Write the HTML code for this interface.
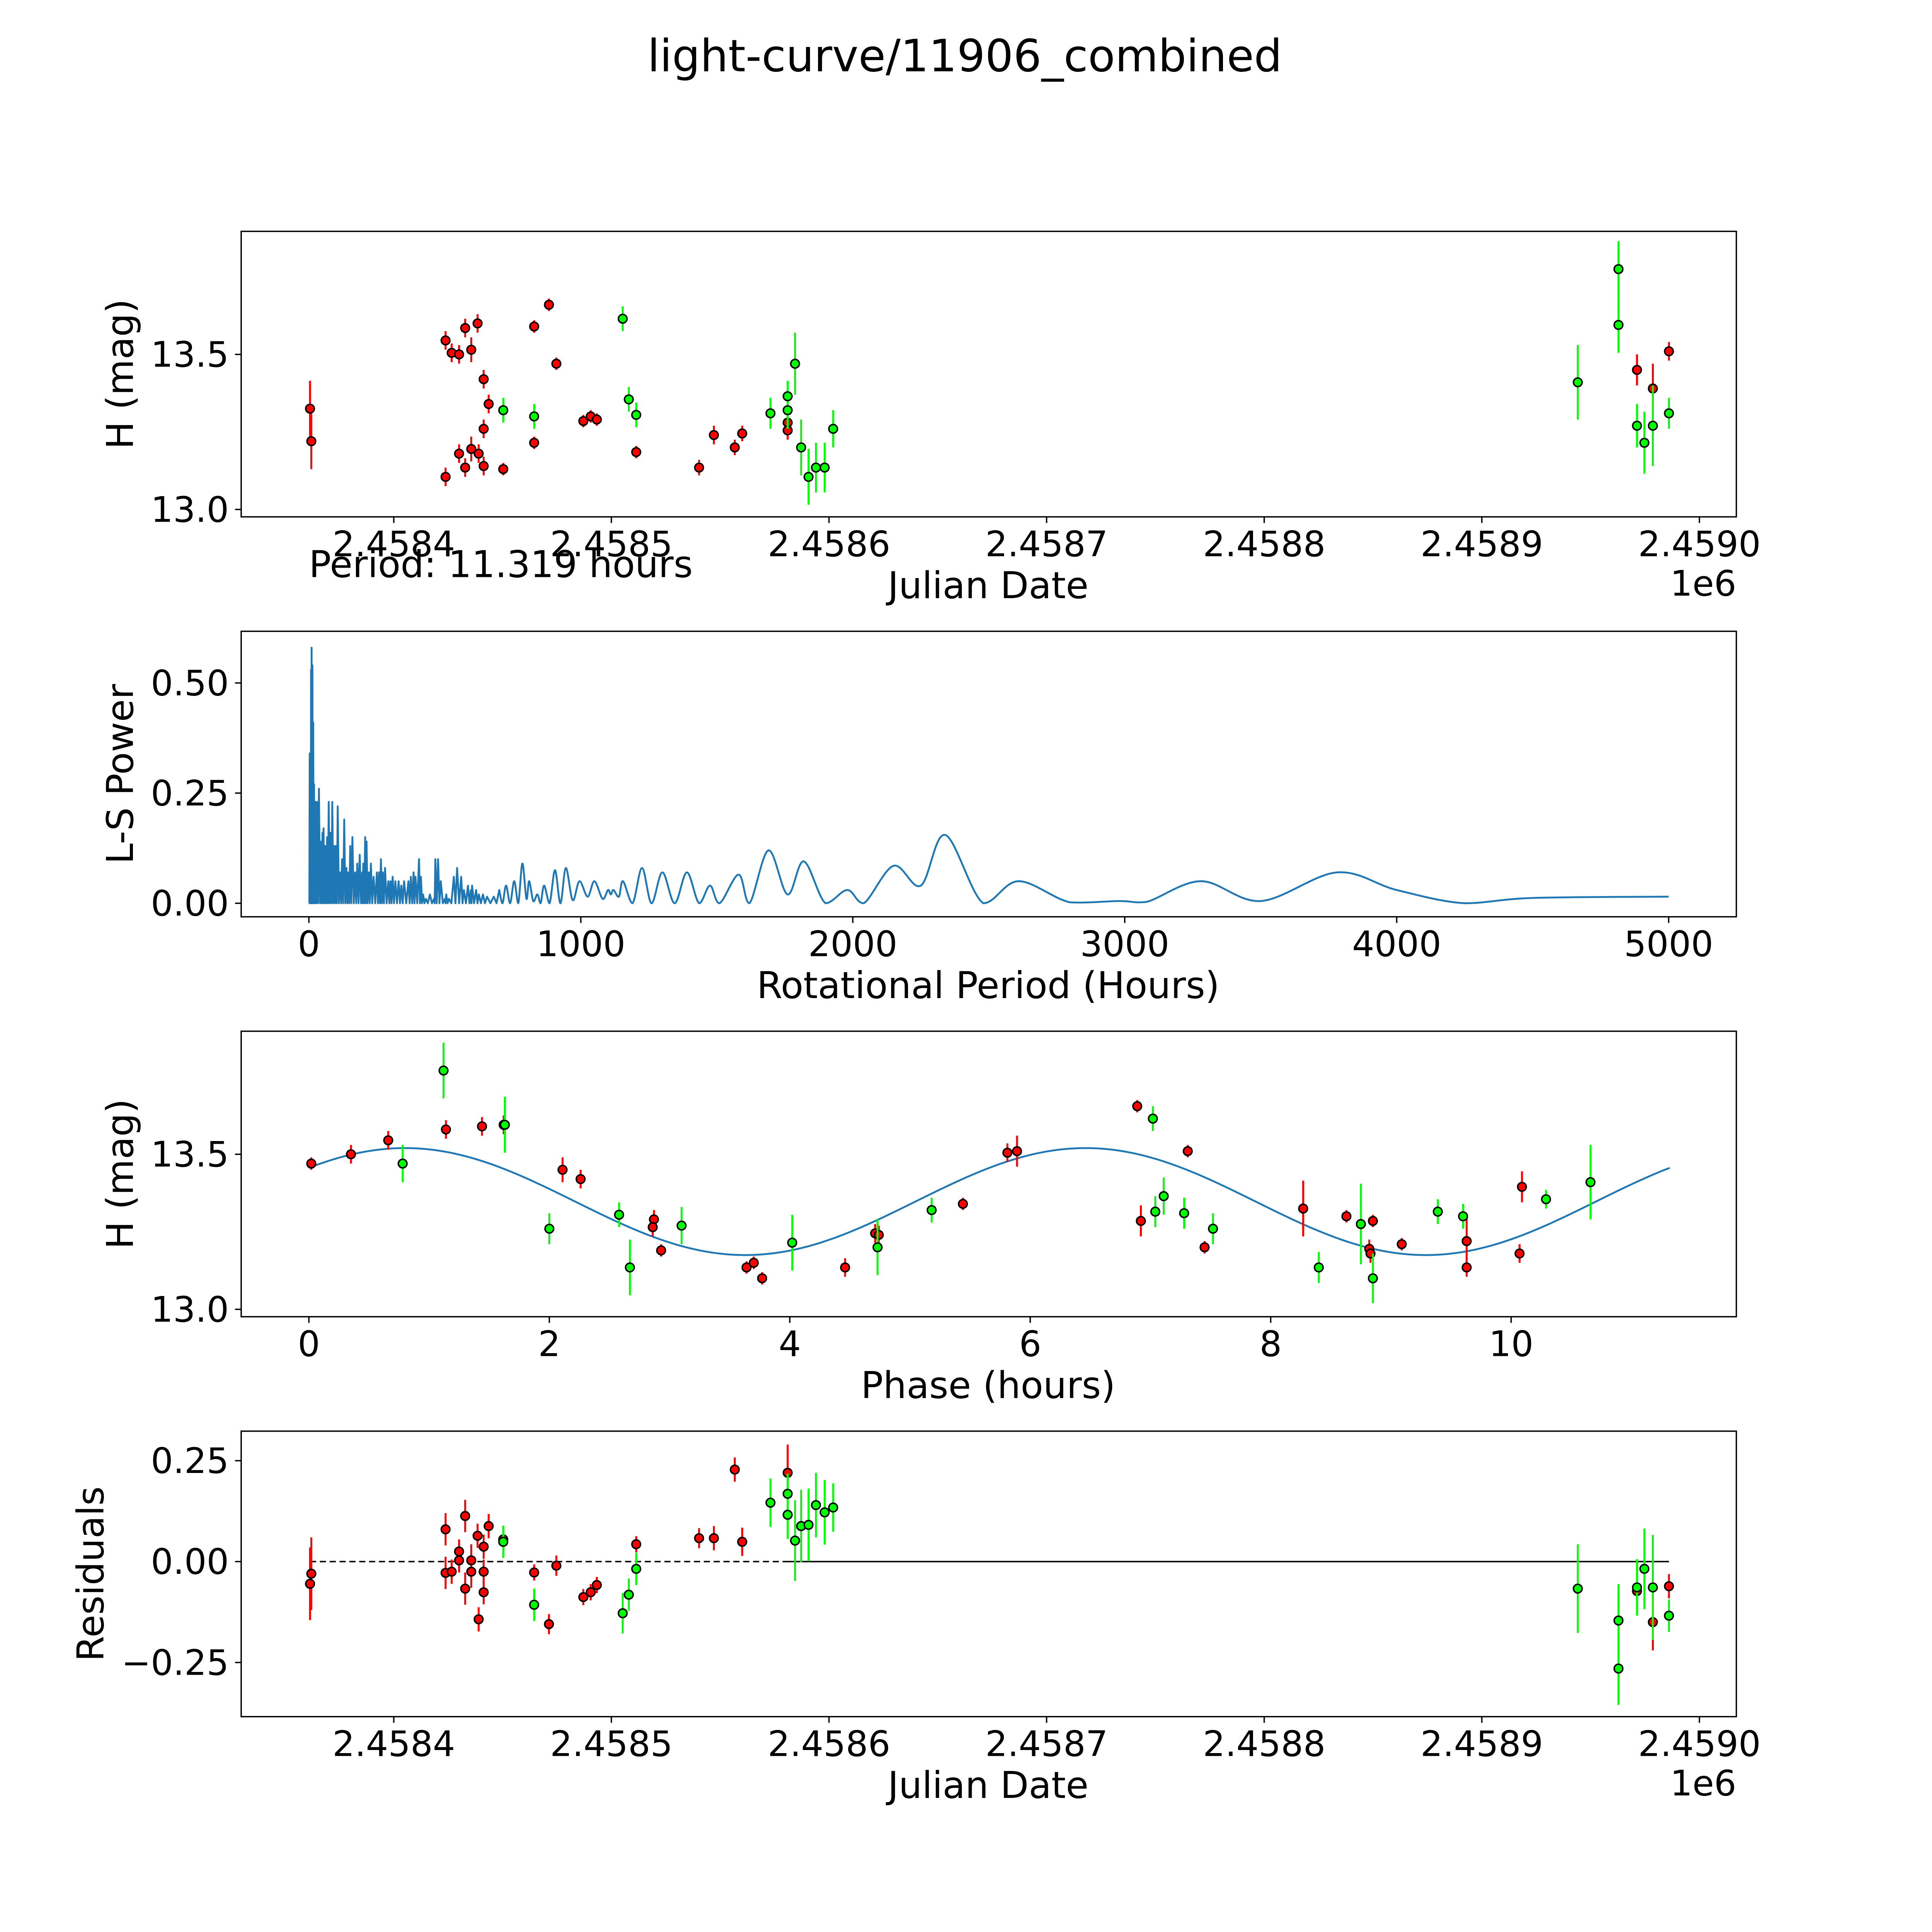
<!DOCTYPE html>
<html><head><meta charset="utf-8">
<style>
html,body{margin:0;padding:0;background:#fff;overflow:hidden;width:100vw;height:100vh;}
svg{display:block;width:100vw;height:100vh;}
text{font-family:"DejaVu Sans","Liberation Sans",sans-serif;fill:#000;}
</style></head>
<body>
<svg id="fig" xmlns="http://www.w3.org/2000/svg" viewBox="0 0 1570 1570" preserveAspectRatio="none">
<rect x="0" y="0" width="1570" height="1570" fill="#fff"/>
<text x="784" y="58" font-size="36" text-anchor="middle">light-curve/11906_combined</text>
</svg>
<script>
// ---------- Panel 1: light curve (JD offset from 2458400, magnitude, error) ----------
const lcRedJd  = [-38.5,-37.9,23.8,23.8,26.6,30.0,30.0,32.8,32.8,35.6,35.6,38.5,39.0,41.3,41.3,41.3,43.6,50.3,64.5,64.5,71.3,74.7,87.1,90.5,93.3,111.4,140.3,147.1,156.7,160.1,181.0,181.0,571.3,578.6,586.0];
const lcRedMag = [13.325,13.22,13.545,13.105,13.505,13.50,13.18,13.585,13.135,13.515,13.195,13.60,13.18,13.42,13.26,13.14,13.34,13.13,13.59,13.215,13.66,13.47,13.285,13.30,13.29,13.185,13.135,13.24,13.20,13.245,13.28,13.255,13.45,13.39,13.51];
const lcRedErr = [0.09,0.09,0.03,0.03,0.03,0.03,0.03,0.03,0.03,0.04,0.04,0.03,0.03,0.03,0.03,0.03,0.03,0.02,0.02,0.02,0.02,0.02,0.02,0.02,0.02,0.02,0.025,0.03,0.025,0.025,0.03,0.03,0.05,0.08,0.03];
const lcGrnJd  = [50.3,64.5,105.2,108.0,111.4,173.1,181.0,181.0,184.4,187.2,190.6,194.0,198.0,201.9,544.1,562.8,562.8,571.3,574.7,578.6,586.0];
const lcGrnMag = [13.32,13.30,13.615,13.355,13.305,13.31,13.365,13.32,13.47,13.20,13.105,13.135,13.135,13.26,13.41,13.775,13.595,13.27,13.215,13.27,13.31];
const lcGrnErr = [0.04,0.04,0.04,0.04,0.04,0.05,0.05,0.06,0.1,0.09,0.09,0.08,0.08,0.06,0.12,0.09,0.09,0.07,0.1,0.13,0.05];
const jdTicks = ["2.4584","2.4585","2.4586","2.4587","2.4588","2.4589","2.4590"];
const jdTickVals = [0,100,200,300,400,500,600];
const magTicks = ["13.0","13.5"];
const magTickVals = [13.0,13.5];

// ---------- Panel 2: periodogram ----------
const densePeriods = [3,6,8,10,13,16,19,24,30,37,45,50,54,60,67,73,80,86,94,100,106,115,122,130,138,145,152,160,170,178,187,196,200,207,212,220,228,238,250,258,265,272,280,292,300,308,318,330,340,350,366,375,385,392,405,412,420,430,445,460,465,475,485,500,505,515,533,545,560,570,585,596,600,615,625,640,655,680];
const densePowers  = [0.34,0.26,0.53,0.58,0.54,0.41,0.27,0.23,0.23,0.26,0.14,0.16,0.17,0.13,0.15,0.23,0.16,0.23,0.13,0.13,0.22,0.07,0.10,0.19,0.08,0.07,0.13,0.15,0.07,0.09,0.11,0.07,0.09,0.15,0.14,0.07,0.09,0.06,0.07,0.07,0.10,0.07,0.08,0.05,0.05,0.06,0.05,0.05,0.04,0.05,0.05,0.06,0.07,0.06,0.10,0.06,0.02,0.01,0.02,0.01,0.10,0.10,0.05,0.01,0.02,0.01,0.06,0.08,0.06,0.03,0.04,0.03,0.04,0.03,0.02,0.02,0.015,0.015];
const smoothPeriods = [700,712,725,740,755,770,785,800,810,825,840,852,865,885,905,925,945,970,995,1025,1050,1080,1100,1110,1120,1140,1155,1190,1225,1260,1300,1345,1390,1435,1475,1510,1580,1620,1690,1760,1820,1900,1980,2040,2150,2250,2340,2480,2610,2800,2980,3080,3280,3500,3780,4000,4250,4500,5000];
const smoothPowers  = [0.03,0,0.04,0,0.05,0,0.09,0.01,0.05,0.005,0.02,0,0.04,0,0.075,0,0.08,0.007,0.05,0.015,0.05,0.01,0.03,0.02,0.03,0.015,0.05,0,0.08,0,0.07,0,0.07,0,0.04,0,0.065,0,0.12,0.02,0.095,0,0.03,0,0.085,0.04,0.155,0,0.05,0.002,0.005,0.003,0.05,0.005,0.07,0.03,0,0.012,0.015];
const perTicks = ["0","1000","2000","3000","4000","5000"];
const perTickVals = [0,1000,2000,3000,4000,5000];
const powTicks = ["0.00","0.25","0.50"];
const powTickVals = [0,0.25,0.5];

// ---------- Panel 3: phased ----------
const phRedX = [0.02,0.35,0.66,1.14,1.44,1.62,2.11,2.26,2.87,2.86,2.93,3.64,3.70,3.77,4.46,4.71,4.74,5.44,5.81,5.89,6.89,6.92,7.31,7.45,8.27,8.63,8.82,8.83,8.85,9.09,9.63,9.63,10.07,10.09];
const phRedY = [13.47,13.50,13.545,13.58,13.59,13.595,13.45,13.42,13.29,13.265,13.19,13.135,13.15,13.10,13.135,13.245,13.24,13.34,13.505,13.51,13.655,13.285,13.51,13.20,13.325,13.30,13.195,13.18,13.285,13.21,13.22,13.135,13.18,13.395];
const phRedE = [0.02,0.03,0.03,0.03,0.03,0.03,0.04,0.03,0.03,0.03,0.02,0.02,0.02,0.02,0.03,0.03,0.03,0.02,0.03,0.05,0.02,0.05,0.02,0.02,0.09,0.02,0.03,0.03,0.02,0.02,0.08,0.03,0.03,0.05];
const phGrnX = [1.12,1.63,0.78,2.0,2.58,2.67,3.10,4.02,4.73,5.18,7.02,7.04,7.11,7.28,7.52,8.40,8.75,8.85,9.39,9.60,10.29,10.66];
const phGrnY = [13.77,13.595,13.47,13.26,13.305,13.135,13.27,13.215,13.20,13.32,13.615,13.315,13.365,13.31,13.26,13.135,13.275,13.10,13.315,13.30,13.355,13.41];
const phGrnE = [0.09,0.09,0.06,0.05,0.04,0.09,0.06,0.09,0.09,0.04,0.04,0.05,0.06,0.05,0.05,0.05,0.13,0.08,0.04,0.04,0.03,0.12];
const fitParams = [13.3475, 0.1725, 5.66, 0.8, 11.319]; // mean, amplitude, period, peak phase, max phase
const phTicks = ["0","2","4","6","8","10"];
const phTickVals = [0,2,4,6,8,10];

// ---------- Panel 4: residuals ----------
const resRedJd = [-38.5,-37.9,23.8,23.8,26.6,30.0,30.0,32.8,32.8,35.6,35.6,38.5,39.0,41.3,41.3,41.3,43.6,50.3,64.5,64.5,71.3,74.7,87.1,90.5,93.3,111.4,140.3,147.1,156.7,160.1,181.0,571.3,578.6,586.0];
const resRedV  = [-0.055,-0.03,0.08,-0.028,-0.025,0.025,0.003,0.113,-0.067,0.003,-0.025,0.064,-0.143,0.037,-0.076,-0.025,0.088,0.055,-0.027,-0.107,-0.155,-0.01,-0.088,-0.076,-0.058,0.043,0.058,0.058,0.228,0.049,0.22,-0.073,-0.15,-0.061];
const resRedE  = [0.09,0.09,0.04,0.04,0.03,0.03,0.03,0.04,0.04,0.04,0.04,0.03,0.03,0.03,0.03,0.03,0.03,0.02,0.02,0.02,0.025,0.025,0.02,0.02,0.02,0.02,0.025,0.03,0.03,0.035,0.07,0.05,0.07,0.03];
const resGrnJd = [50.3,64.5,105.2,108.0,111.4,173.1,181.0,181.0,184.4,187.2,190.6,194.0,198.0,201.9,544.1,562.8,562.8,571.3,574.7,578.6,586.0];
const resGrnV  = [0.049,-0.107,-0.128,-0.082,-0.018,0.146,0.168,0.116,0.052,0.088,0.091,0.14,0.122,0.134,-0.067,-0.146,-0.265,-0.064,-0.018,-0.064,-0.134];
const resGrnE  = [0.04,0.04,0.05,0.04,0.04,0.06,0.05,0.06,0.1,0.09,0.09,0.08,0.08,0.06,0.11,0.09,0.09,0.07,0.1,0.13,0.04];
const resTicks = ["\u22120.25","0.00","0.25"];
const resTickVals = [-0.25,0,0.25];

const NS = "http://www.w3.org/2000/svg";
const svg = document.getElementById('fig');
function mk(tag, attrs, parent){
  const e = document.createElementNS(NS, tag);
  for (const k in attrs) e.setAttribute(k, attrs[k]);
  (parent||svg).appendChild(e);
  return e;
}
const L = 196, R = 1411;
const TICK_FS = 28.5, LABEL_FS = 30;
function lin(d0,d1,r0,r1){ return v => r0 + (v-d0)*(r1-r0)/(d1-d0); }

function frame(top, bottom, name){
  const g = mk('g', {});
  
  
  return g;
}
function spines(g, top, bottom){
  const r = mk('rect', {x:L, y:top, width:R-L, height:bottom-top, fill:'none', stroke:'#000', 'stroke-width':1.1}, g);
  
  
}
function xticks(g, bottom, vals, labels, sx){
  vals.forEach((v,i)=>{
    const x = sx(v);
    mk('line', {x1:x, y1:bottom, x2:x, y2:bottom+5, stroke:'#000', 'stroke-width':1.1}, g);
    const t = mk('text', {x:x, y:bottom+32, 'font-size':TICK_FS, 'text-anchor':'middle'}, g);
    t.textContent = labels[i];
    
    
  });
}
function yticks(g, vals, labels, sy){
  vals.forEach((v,i)=>{
    const y = sy(v);
    mk('line', {x1:L-5, y1:y, x2:L, y2:y, stroke:'#000', 'stroke-width':1.1}, g);
    const t = mk('text', {x:L-10, y:y+10, 'font-size':TICK_FS, 'text-anchor':'end'}, g);
    t.textContent = labels[i];
    
    
  });
}
function label(g, x, y, txt, rot, name){
  const t = mk('text', {x:x, y:y, 'font-size':LABEL_FS, 'text-anchor':'middle'}, g);
  if (rot) t.setAttribute('transform', `rotate(-90 ${x} ${y})`);
  t.textContent = txt;
  
  
}
function points(g, xs, ys, es, sx, sy, color, name){
  xs.forEach((xv,i)=>{
    const x = sx(xv);
    const l = mk('line', {x1:x, y1:sy(ys[i]-es[i]), x2:x, y2:sy(ys[i]+es[i]), stroke:color, 'stroke-width':1.6}, g);
    
    
  });
  xs.forEach((xv,i)=>{
    const c = mk('circle', {cx:sx(xv), cy:sy(ys[i]), r:3.5, fill:color, stroke:'#000', 'stroke-width':1.2}, g);
    
    
  });
}

// Panel 1
(function(){
  const top=188,bot=420;
  const g = frame(top,bot,'light-curve-panel');
  const sx = lin(0,600,320,1381), sy = lin(13.0,13.5,414,288);
  points(g, lcRedJd, lcRedMag, lcRedErr, sx, sy, '#ff0000', 'red-observation');
  points(g, lcGrnJd, lcGrnMag, lcGrnErr, sx, sy, '#00ff00', 'green-observation');
  spines(g,top,bot);
  xticks(g, bot, jdTickVals, jdTicks, sx);
  yticks(g, magTickVals, magTicks, sy);
  label(g, 803, 486, 'Julian Date', false, 'x-axis-title');
  label(g, 108, 304, 'H (mag)', true, 'y-axis-title');
  const o = mk('text', {x:1411, y:484, 'font-size':TICK_FS, 'text-anchor':'end'}, g);
  o.textContent = '1e6';
  
  
  const p = mk('text', {x:251, y:469, 'font-size':LABEL_FS}, g);
  p.textContent = 'Period: 11.319 hours';
  
  
})();

// Panel 2
(function(){
  const top=513,bot=745;
  const g = frame(top,bot,'periodogram-panel');
  const sx = lin(0,5000,251,1356), sy = lin(0,0.5,734,555);
  let d = `M${sx(0.5)},${sy(0)}`;
  densePeriods.forEach((p,i)=>{
    const prev = i===0 ? 0.5 : densePeriods[i-1];
    const mid = (prev+p)/2;
    d += ` L${sx(mid)},${sy(0)} L${sx(p)},${sy(densePowers[i])}`;
  });
  d += ` L${sx((densePeriods[densePeriods.length-1]+smoothPeriods[0])/2)},${sy(0)}`;
  const P = smoothPeriods.map((p,i)=>[sx(p), sy(smoothPowers[i])]);
  d += ` L${P[0][0]},${P[0][1]}`;
  const y0 = sy(0);
  for (let i=0;i<P.length-1;i++){
    const p0 = P[Math.max(0,i-1)], p1=P[i], p2=P[i+1], p3=P[Math.min(P.length-1,i+2)];
    const c1x = p1[0]+(p2[0]-p0[0])/6, c1y = Math.min(y0, p1[1]+(p2[1]-p0[1])/6);
    const c2x = p2[0]-(p3[0]-p1[0])/6, c2y = Math.min(y0, p2[1]-(p3[1]-p1[1])/6);
    d += ` C${c1x},${c1y} ${c2x},${c2y} ${p2[0]},${p2[1]}`;
  }
  const path = mk('path', {d:d, fill:'none', stroke:'#1f77b4', 'stroke-width':1.5, 'stroke-linejoin':'round'}, g);
  
  
  spines(g,top,bot);
  xticks(g, bot, perTickVals, perTicks, sx);
  yticks(g, powTickVals, powTicks, sy);
  label(g, 803, 811, 'Rotational Period (Hours)', false, 'x-axis-title');
  label(g, 108, 629, 'L-S Power', true, 'y-axis-title');
})();

// Panel 3
(function(){
  const top=838,bot=1070;
  const g = frame(top,bot,'phased-curve-panel');
  const sx = lin(0,10,251,1228), sy = lin(13.0,13.5,1064,938);
  const [m,a,per,pk,mx] = fitParams;
  let d='';
  for (let i=0;i<=300;i++){
    const t = mx*i/300;
    const v = m + a*Math.cos(2*Math.PI*(t-pk)/per);
    d += (i?' L':'M') + sx(t) + ',' + sy(v);
  }
  const f = mk('path', {d:d, fill:'none', stroke:'#1f77b4', 'stroke-width':1.5}, g);
  
  
  points(g, phRedX, phRedY, phRedE, sx, sy, '#ff0000', 'red-phased');
  points(g, phGrnX, phGrnY, phGrnE, sx, sy, '#00ff00', 'green-phased');
  spines(g,top,bot);
  xticks(g, bot, phTickVals, phTicks, sx);
  yticks(g, magTickVals, magTicks, sy);
  label(g, 803, 1136, 'Phase (hours)', false, 'x-axis-title');
  label(g, 108, 954, 'H (mag)', true, 'y-axis-title');
})();

// Panel 4
(function(){
  const top=1163,bot=1395;
  const g = frame(top,bot,'residuals-panel');
  const sx = lin(0,600,320,1381), sy = lin(0,0.25,1269,1187);
  const z1 = mk('line', {x1:sx(-38.5), y1:sy(0), x2:sx(181), y2:sy(0), stroke:'#000', 'stroke-width':1.2, 'stroke-dasharray':'5,3'}, g);
  
  
  const z2 = mk('line', {x1:sx(181), y1:sy(0), x2:sx(586), y2:sy(0), stroke:'#000', 'stroke-width':1.2}, g);
  
  
  points(g, resRedJd, resRedV, resRedE, sx, sy, '#ff0000', 'red-residual');
  points(g, resGrnJd, resGrnV, resGrnE, sx, sy, '#00ff00', 'green-residual');
  spines(g,top,bot);
  xticks(g, bot, jdTickVals, jdTicks, sx);
  yticks(g, resTickVals, resTicks, sy);
  label(g, 803, 1461, 'Julian Date', false, 'x-axis-title');
  label(g, 84, 1279, 'Residuals', true, 'y-axis-title');
  const o = mk('text', {x:1411, y:1459, 'font-size':TICK_FS, 'text-anchor':'end'}, g);
  o.textContent = '1e6';
  
  
})();
</script>
</body></html>
